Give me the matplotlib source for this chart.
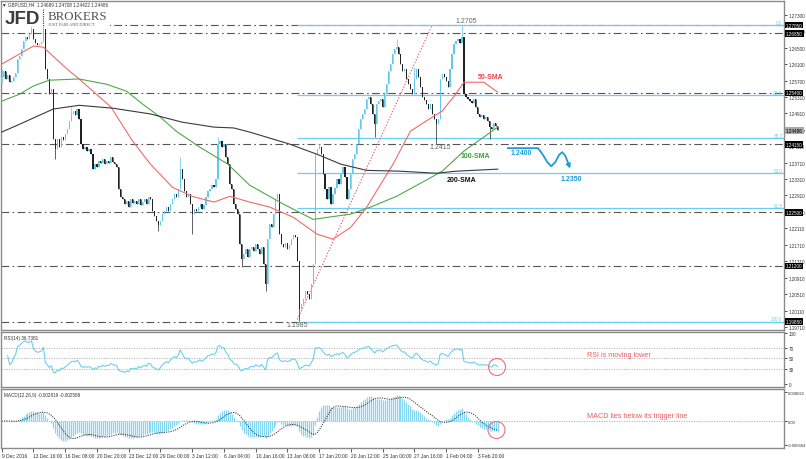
import numpy as np
import pandas as pd
import matplotlib
matplotlib.use("Agg")
import matplotlib.pyplot as plt
from matplotlib.patches import Ellipse, Rectangle

plt.rcParams["font.family"] = ["Liberation Sans", "DejaVu Sans"]

# ---- GBPUSD H4 closes (bar by bar, left to right) ----
first_open = 1.2564
closes = [
    1.2578, 1.2593, 1.2574, 1.2583, 1.2566, 1.2569, 1.2578, 1.2588, 1.2622, 1.2630,
    1.2647, 1.2666, 1.2676, 1.2671, 1.2683, 1.2695, 1.2671, 1.2661, 1.2656, 1.2659,
    1.2664, 1.2695, 1.2598, 1.2574, 1.2537, 1.2549, 1.2428, 1.2403, 1.2428, 1.2408,
    1.2433, 1.2425,
    1.2440, 1.2452, 1.2472, 1.2489, 1.2496, 1.2486, 1.2501, 1.2476, 1.2416, 1.2403,
    1.2408, 1.2399, 1.2403, 1.2391, 1.2355, 1.2367, 1.2360, 1.2374, 1.2369, 1.2379,
    1.2367, 1.2374, 1.2370,
    1.2384, 1.2372, 1.2367, 1.2360, 1.2306, 1.2287, 1.2282, 1.2270, 1.2277, 1.2263,
    1.2282, 1.2272, 1.2277, 1.2270, 1.2282, 1.2268, 1.2275, 1.2282, 1.2270, 1.2287,
    1.2282, 1.2253, 1.2241,
    1.2229, 1.2219, 1.2229, 1.2246, 1.2253, 1.2263, 1.2253, 1.2270, 1.2282, 1.2294,
    1.2287, 1.2306, 1.2355, 1.2330, 1.2301, 1.2287, 1.2294, 1.2270, 1.2246, 1.2258,
    1.2253, 1.2262,
    1.2270, 1.2258, 1.2268, 1.2287, 1.2301, 1.2306, 1.2316, 1.2311, 1.2330, 1.2416,
    1.2423, 1.2408, 1.2416, 1.2384, 1.2367, 1.2318, 1.2306, 1.2270, 1.2258, 1.2246,
    1.2173, 1.2136, 1.2150,
    1.2160, 1.2141, 1.2160, 1.2165, 1.2156, 1.2173, 1.2160, 1.2148, 1.2165, 1.2124,
    1.2075, 1.2185, 1.2221, 1.2214, 1.2246, 1.2282, 1.2294, 1.2197, 1.2173, 1.2165,
    1.2175, 1.2160, 1.2170,
    1.2185, 1.2195, 1.2190, 1.2131, 1.2015, 1.2027, 1.2039, 1.2058, 1.2051, 1.2039,
    1.2075, 1.2124, 1.2391, 1.2403, 1.2408, 1.2391, 1.2343, 1.2306, 1.2282, 1.2311,
    1.2270, 1.2294, 1.2310,
    1.2330, 1.2318, 1.2343, 1.2360, 1.2335, 1.2282, 1.2306, 1.2343, 1.2379, 1.2391,
    1.2416, 1.2452, 1.2476, 1.2489, 1.2501, 1.2525, 1.2530, 1.2513, 1.2489, 1.2464,
    1.2513, 1.2520,
    1.2525, 1.2506, 1.2537, 1.2561, 1.2593, 1.2610, 1.2634, 1.2647, 1.2651, 1.2634,
    1.2610, 1.2593, 1.2598, 1.2574, 1.2561, 1.2549, 1.2537, 1.2574, 1.2598, 1.2578,
    1.2554, 1.2530, 1.2522,
    1.2513, 1.2501, 1.2513, 1.2489, 1.2476, 1.2464, 1.2476, 1.2574, 1.2586, 1.2578,
    1.2569, 1.2554, 1.2598, 1.2634, 1.2659, 1.2666, 1.2671, 1.2661, 1.2676, 1.2537,
    1.2530, 1.2525, 1.2520,
    1.2515, 1.2525, 1.2506, 1.2489, 1.2481, 1.2486, 1.2476, 1.2481, 1.2472, 1.2457,
    1.2452, 1.2467, 1.2459, 1.2449,
]
# wicks that stick out beyond the bodies
high_wicks = {0: 1.2598, 15: 1.2705, 21: 1.2702, 35: 1.2506, 90: 1.2384, 109: 1.2433,
              160: 1.2416, 199: 1.2671, 208: 1.2603, 232: 1.2705}
low_wicks = {27: 1.2379, 79: 1.2204, 96: 1.2197, 121: 1.2117, 133: 1.2058, 150: 1.1986,
             188: 1.2433, 219: 1.2416, 246: 1.2428}

# moving averages, read at points along each line (bar, price)
sma50_bar = [0, 16, 21, 33, 39, 55, 66, 75, 86, 96, 107, 115, 125, 135, 147, 159, 167,
             176, 184, 192, 197, 206, 214, 222, 228, 233, 243, 250]
sma50_val = [1.2610, 1.2654, 1.2651, 1.2598, 1.2574, 1.2506, 1.2423, 1.2367, 1.2311,
             1.2289, 1.2275, 1.2289, 1.2275, 1.2263, 1.2238, 1.2197, 1.2185, 1.2214,
             1.2263, 1.2326, 1.2365, 1.2447, 1.2472, 1.2496, 1.2532, 1.2566, 1.2566, 1.2542]
sma100_bar = [0, 9, 16, 24, 39, 53, 63, 71, 80, 88, 100, 114, 125, 142, 157, 176, 186,
              199, 212, 222, 233, 243, 250]
sma100_val = [1.2520, 1.2537, 1.2557, 1.2571, 1.2574, 1.2561, 1.2544, 1.2513, 1.2481,
              1.2447, 1.2408, 1.2367, 1.2316, 1.2270, 1.2233, 1.2246, 1.2263, 1.2289,
              1.2323, 1.2350, 1.2399, 1.2433, 1.2457]
sma200_bar = [0, 9, 26, 39, 56, 75, 91, 107, 117, 125, 145, 159, 171, 184, 201, 219, 229, 250]
sma200_val = [1.2445, 1.2464, 1.2501, 1.2510, 1.2503, 1.2489, 1.2469, 1.2457, 1.2455,
              1.2445, 1.2416, 1.2391, 1.2367, 1.2352, 1.2350, 1.2345, 1.2350, 1.2355]

trend_bar = [149, 217]
trend_val = [1.1990, 1.2705]

fib_levels = [1.2705, 1.2535, 1.2430, 1.2345, 1.2260, 1.1985]
fib_names = ["0.0", "23.6", "38.2", "50.0", "61.8", "100.0"]
fib_start = 149
hline_levels = [1.2705, 1.2685, 1.2540, 1.2415, 1.2250, 1.2120, 1.1985]
price_ticks = [1.27300, 1.26900, 1.26500, 1.26100, 1.25700, 1.25310, 1.24910, 1.24510,
               1.24110, 1.23710, 1.23310, 1.22910, 1.22510, 1.22110, 1.21710, 1.21310,
               1.20910, 1.20510, 1.20110, 1.19710]
last_price = 1.24486

date_labels = ["9 Dec 2016", "13 Dec 16:00", "16 Dec 08:00", "20 Dec 20:00", "23 Dec 12:00",
               "29 Dec 00:00", "3 Jan 12:00", "6 Jan 04:00", "10 Jan 16:00", "13 Jan 08:00",
               "17 Jan 20:00", "20 Jan 12:00", "25 Jan 00:00", "27 Jan 16:00", "1 Feb 04:00",
               "3 Feb 20:00"]
bars_per_label = 16

BULL = "#62c9ec"
BEAR = "#222222"
FIB = "#6ccdf2"
BLUE = "#1b9bd7"
RED = "#ef5a63"
SMALL = 3.3

W, H = 806, 460
fig = plt.figure(figsize=(W / 100, H / 100), dpi=100)


def px_axes(x0, y0, x1, y1):
    return fig.add_axes([x0 / W, 1 - y1 / H, (x1 - x0) / W, (y1 - y0) / H])


ax = px_axes(1, 1.5, 784, 331)
ax_rsi = px_axes(1, 332.5, 784, 388)
ax_macd = px_axes(1, 390, 784, 448.5)
XLIM = (-0.35, 394.3)

for a in (ax, ax_rsi, ax_macd):
    a.set_xlim(*XLIM)
    for sp in a.spines.values():
        sp.set_color("#8a8a8a")
        sp.set_linewidth(1.0)
    a.yaxis.tick_right()
    a.tick_params(axis="y", length=2, width=0.6, labelsize=SMALL, pad=1.2,
                  colors="#333333")
    a.tick_params(axis="x", bottom=False, labelbottom=False)

# ---- candles ----
c = np.array(closes)
x = np.arange(len(c))
o = np.r_[first_open, c[:-1]]
hi = np.maximum(o, c)
lo = np.minimum(o, c)
for k, v in high_wicks.items():
    hi[k] = max(hi[k], v)
for k, v in low_wicks.items():
    lo[k] = min(lo[k], v)
col = np.where(c >= o, BULL, BEAR)

ax.set_ylim(1.19644, 1.27645)
for lvl in hline_levels:
    ax.axhline(lvl, color="#555555", lw=0.8, ls=(0, (7, 3, 1.5, 3)), zorder=1)
ax.hlines(fib_levels, fib_start, XLIM[1], color=FIB, lw=0.9, zorder=2)
for lvl, nm in zip(fib_levels, fib_names):
    ax.text(XLIM[1] - 0.8, lvl + 0.0001, nm, ha="right", va="bottom", fontsize=SMALL,
            color=FIB, zorder=3)

ax.plot(trend_bar, trend_val, color=RED, lw=0.8, ls=(0, (1.2, 1.5)), zorder=3)
ax.vlines(x, lo, hi, colors=col, lw=0.5, zorder=4)
ax.bar(x, np.maximum(np.abs(c - o), 0.00005), bottom=np.minimum(o, c),
       width=0.6, color=col, lw=0, zorder=4)

ax.plot(sma50_bar, sma50_val, color="#f06a6a", lw=0.8, zorder=5)
ax.plot(sma100_bar, sma100_val, color="#4fa84a", lw=0.8, zorder=5)
ax.plot(sma200_bar, sma200_val, color="#3a3a3a", lw=0.8, zorder=5)

ax.set_yticks(price_ticks)
ax.set_yticklabels([f"{t:.5f}" for t in price_ticks])

ytr = ax.get_yaxis_transform()
for lvl in hline_levels:
    ax.text(1.0025, lvl, f"{lvl:.5f}", transform=ytr, ha="left", va="center",
            fontsize=SMALL, color="white", clip_on=False, zorder=10,
            bbox=dict(boxstyle="square,pad=0.2", fc="black", ec="none"))
ax.text(1.0025, last_price, f"{last_price:.5f}", transform=ytr, ha="left", va="center",
        fontsize=SMALL, color="black", clip_on=False, zorder=10,
        bbox=dict(boxstyle="square,pad=0.2", fc="#a8a8a8", ec="none"))

# chart annotations
ax.text(234, 1.2715, "1.2705", ha="center", va="center", fontsize=5, color="#666666")
ax.text(149, 1.1977, "1.1985", ha="center", va="center", fontsize=5, color="#666666")
ax.text(221, 1.2409, "1.2415", ha="center", va="center", fontsize=5, color="#666666")
ax.text(240, 1.2579, "50-SMA", ha="left", va="center", fontsize=5, color="#e8434b",
        weight="bold")
ax.text(231.5, 1.2387, "100-SMA", ha="left", va="center", fontsize=5, color="#3c9f3c",
        weight="bold")
ax.text(224.5, 1.2331, "200-SMA", ha="left", va="center", fontsize=5, color="#111111",
        weight="bold")
ax.text(262, 1.2396, "1.2400", ha="center", va="center", fontsize=5, color=BLUE,
        weight="bold")
ax.text(287, 1.2333, "1.2350", ha="center", va="center", fontsize=5, color=BLUE,
        weight="bold")
path_x = [254.7, 270.3, 272.5, 275, 277, 279, 281, 282.5, 284, 285.5]
path_y = [1.2406, 1.2406, 1.2392, 1.2372, 1.2362, 1.2372, 1.2390, 1.2396, 1.2388, 1.2370]
ax.plot(path_x, path_y, color=BLUE, lw=1.3, solid_capstyle="butt", zorder=6)
ax.annotate("", xy=(287, 1.2350), xytext=(285.5, 1.2370),
            arrowprops=dict(arrowstyle="-|>", color=BLUE, lw=1.3, mutation_scale=6))

# ---- RSI(14) ----
s = pd.Series(c)
d = s.diff()
gain = d.clip(lower=0).ewm(alpha=1 / 14, adjust=True, min_periods=3).mean()
loss = (-d.clip(upper=0)).ewm(alpha=1 / 14, adjust=True, min_periods=3).mean()
rsi = 100 - 100 / (1 + gain / loss)
ax_rsi.set_ylim(-5.9, 102.9)
for lvl in (70, 50, 30):
    ax_rsi.axhline(lvl, color="#b0b0b0", lw=0.6, ls=(0, (1.5, 1.5)))
ax_rsi.plot(x, rsi, color="#6cd0f0", lw=0.8)
ax_rsi.set_yticks([0, 30, 50, 70, 100])
ax_rsi.set_yticklabels(["0", "30", "50", "70", "100"])
ax_rsi.text(0.004, 0.93, "RSI(14) 36.7381", transform=ax_rsi.transAxes, fontsize=SMALL,
            color="#333333", va="top")
ax_rsi.text(0.748, 0.58, "RSI is moving lower", transform=ax_rsi.transAxes, fontsize=5.2,
            color=RED, va="center")

# ---- MACD(12,26,9) ----
ema12 = s.ewm(span=12, adjust=False).mean()
ema26 = s.ewm(span=26, adjust=False).mean()
macd = ema12 - ema26
signal = macd.rolling(9, min_periods=1).mean()
ax_macd.set_ylim(-0.007234, 0.008847)
ax_macd.axhline(0, color="#5cc6ea", lw=0.6, ls=(0, (1.5, 1.5)))
ax_macd.vlines(x, 0, macd.values, colors="#86d6f0", lw=0.9)
ax_macd.plot(x, signal, color="#333333", lw=0.7, ls=(0, (1.2, 1.2)))
ax_macd.set_yticks([-0.006464, 0, 0.008022])
ax_macd.set_yticklabels(["-0.006464", "0.00", "0.008022"])
ax_macd.tick_params(axis="y", labelsize=3.0, pad=1.0)
ax_macd.text(0.004, 0.95, "MACD(12,26,9) -0.002819 -0.002589", transform=ax_macd.transAxes,
             fontsize=SMALL, color="#333333", va="top")
ax_macd.text(0.748, 0.55, "MACD lies below its trigger line", transform=ax_macd.transAxes,
             fontsize=5.2, color=RED, va="center")

ax_macd.tick_params(axis="x", bottom=True, labelbottom=True, length=3, width=0.6,
                    color="#444444", labelsize=3.5, pad=0.8, labelcolor="#333333")
ax_macd.set_xticks(np.arange(len(date_labels)) * bars_per_label)
ax_macd.set_xticklabels(date_labels)
for lab in ax_macd.get_xticklabels():
    lab.set_horizontalalignment("left")

# red circles
for cx, cy in ((497, 368), (496.5, 431)):
    fig.add_artist(Ellipse((cx / W, 1 - cy / H), 17 / W, 17 / H, transform=fig.transFigure,
                           fill=False, ec="#f07078", lw=0.8))

# ---- header and logo ----
fig.add_artist(Rectangle((2 / W, 1 - 27.5 / H), 108 / W, 19 / H, transform=fig.transFigure,
                         fc="white", ec="none", zorder=3))
fig.text(2 / W, 1 - 4.6 / H, "\u25bc GBPUSD,H4  1.24689 1.24708 1.24422 1.24486",
         fontsize=SMALL, color="#333333", va="center", zorder=4)
fig.text(5 / W, 1 - 20 / H, "JFD", fontsize=13.5, weight="bold", color="#3c3c3c",
         va="center", zorder=4)
fig.add_artist(plt.Line2D([42.5 / W, 42.5 / W], [1 - 10 / H, 1 - 28 / H], color="#333333",
                          lw=0.8, ls=(0, (1, 1)), transform=fig.transFigure, zorder=4))
fig.text(48 / W, 1 - 16.5 / H, "BROKERS", fontsize=9.3, family="Liberation Serif",
         color="#555555", va="center", zorder=4)
fig.text(48.5 / W, 1 - 24.5 / H, "JUST FAIR AND DIRECT", fontsize=3.1,
         family="Liberation Serif", color="#555555", va="center", zorder=4)

fig.savefig("out.png", dpi=100)
